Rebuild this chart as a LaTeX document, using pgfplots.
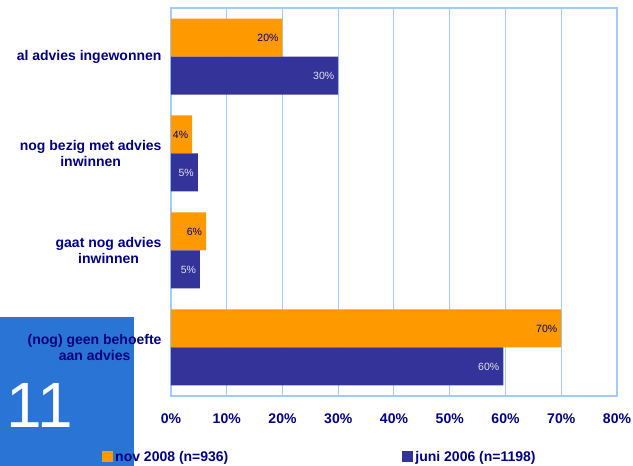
\documentclass[border=0pt]{standalone}
\usepackage{pgfplots}
\pgfplotsset{compat=1.18}
\usepackage{pgfplotstable}
\usepackage{fontspec}
\setmainfont{Liberation Sans}

\definecolor{navy}{HTML}{000080}
\definecolor{barorange}{HTML}{FF9900}
\definecolor{barblue}{HTML}{333399}
\definecolor{gridblue}{HTML}{A0CCFF}
\definecolor{boxblue}{HTML}{2A74D6}
\definecolor{paletext}{HTML}{E2E2F4}

% y: 3 = top category, 0 = bottom
\pgfplotstableread{
y x lab
3 20 20
2 3.8 4
1 6.3 6
0 70 70
}\novdata
\pgfplotstableread{
y x lab
3 30 30
2 4.8 5
1 5.2 5
0 59.6 60
}\junidata

\begin{document}
\begin{tikzpicture}[x=1pt,y=1pt]
\path[use as bounding box] (0,0) rectangle (633,466);
% slide number box
\fill[boxblue] (0,0) rectangle (134,149);
\node[anchor=base west, inner sep=0, text=white,
  font=\fontsize{64}{64}\selectfont] at (6,38) {11};

\begin{axis}[
  at={(171pt,70pt)}, anchor=south west,
  scale only axis, width=446pt, height=388pt,
  xmin=0, xmax=80, ymin=-0.5, ymax=3.5,
  xtick={0,10,...,80},
  xticklabels={0\%,10\%,20\%,30\%,40\%,50\%,60\%,70\%,80\%},
  ytick={0,1,2,3},
  yticklabels={{(nog) geen behoefte\\aan advies},{gaat nog advies\\inwinnen},{nog bezig met advies\\inwinnen},{al advies ingewonnen}},
  major tick length=0pt,
  xmajorgrids,
  grid style={gridblue, line width=1pt},
  axis line style={gridblue, line width=1.3pt},
  xticklabel style={font=\bfseries\fontsize{14}{16}\selectfont, text=navy, yshift=-14pt},
  yticklabel style={font=\bfseries\fontsize{14}{16}\selectfont, text=navy, align=center, xshift=-6pt},
  xbar, bar width=38pt,
  point meta=explicit symbolic,
  nodes near coords={\pgfplotspointmeta\%},
  every node near coord/.append style={anchor=east, xshift=-0.5pt,
    font=\fontsize{10.5}{12}\selectfont},
  legend columns=2,
  legend style={draw=none, fill=none, at={(axis description cs:-0.1547,-0.157)},
    anchor=west, inner sep=0pt,
    font=\bfseries\fontsize{14}{16}\selectfont, text=navy,
    /tikz/every even column/.append style={column sep=172pt}},
  legend image code/.code={\fill[#1] (0pt,-5.5pt) rectangle (11pt,5.5pt);},
]
\addplot[fill=barorange, draw=none, bar shift=19pt,
  every node near coord/.append style={text=navy}]
  table[x=x, y=y, meta=lab] {\novdata};
\addplot[fill=barblue, draw=none, bar shift=-19pt,
  every node near coord/.append style={text=paletext}]
  table[x=x, y=y, meta=lab] {\junidata};
\legend{nov 2008 (n=936), juni 2006 (n=1198)}
\end{axis}
\end{tikzpicture}
\end{document}
